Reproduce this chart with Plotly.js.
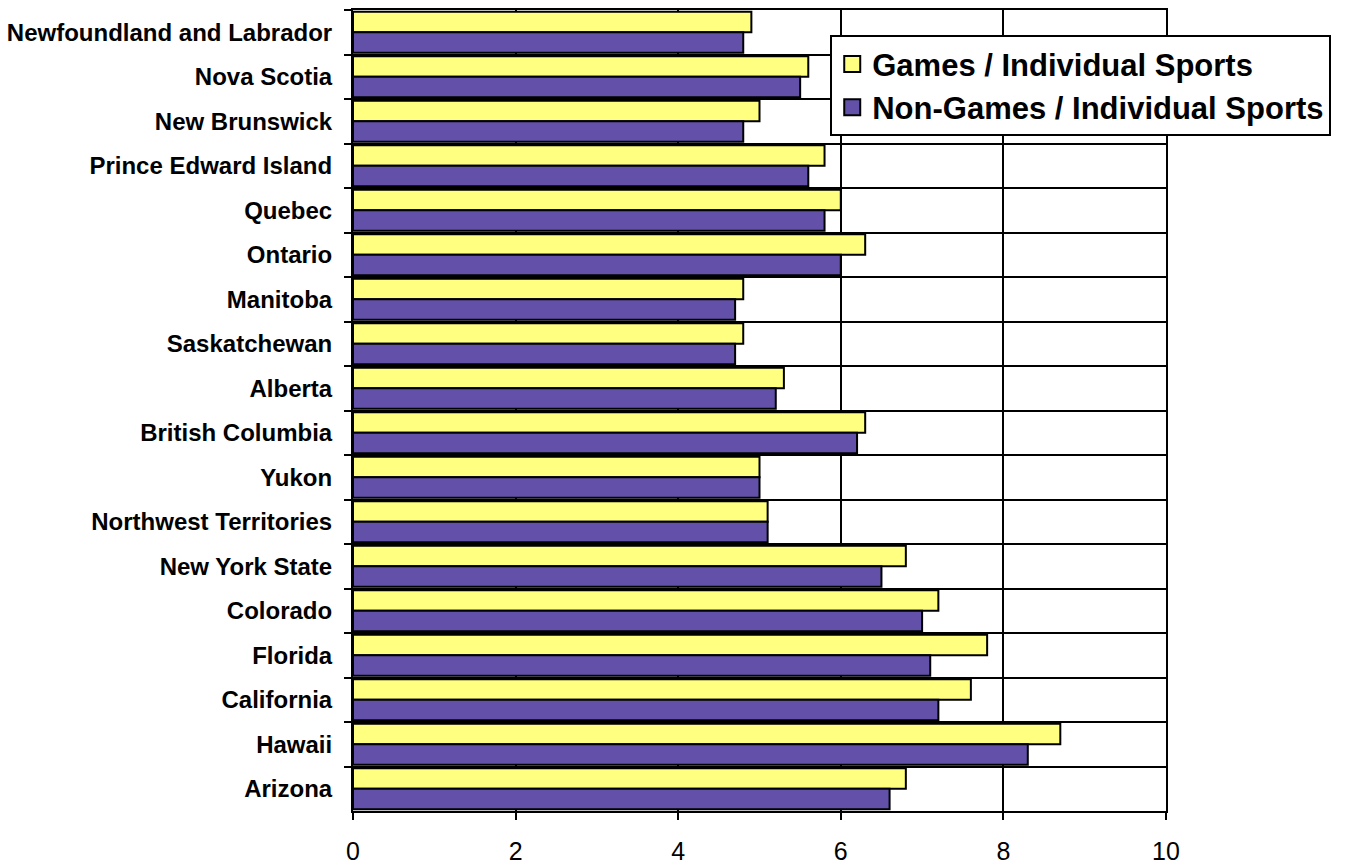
<!DOCTYPE html>
<html>
<head>
<meta charset="utf-8">
<script src="https://cdn.plot.ly/plotly-3.0.1.min.js"></script>
<style>
  html, body { margin: 0; padding: 0; background: #ffffff; }
  #chart { width: 1345px; height: 864px; }
</style>
</head>
<body>
<div id="chart"></div>
<script>
// Regions, listed top to bottom
const regions = [
  "Newfoundland and Labrador", "Nova Scotia", "New Brunswick", "Prince Edward Island",
  "Quebec", "Ontario", "Manitoba", "Saskatchewan", "Alberta", "British Columbia",
  "Yukon", "Northwest Territories", "New York State", "Colorado", "Florida",
  "California", "Hawaii", "Arizona"
];

// Games / Individual Sports
const gamesValues = [4.9, 5.6, 5.0, 5.8, 6.0, 6.3, 4.8, 4.8, 5.3, 6.3, 5.0, 5.1, 6.8, 7.2, 7.8, 7.6, 8.7, 6.8];

// Non-Games / Individual Sports
const nonGamesValues = [4.8, 5.5, 4.8, 5.6, 5.8, 6.0, 4.7, 4.7, 5.2, 6.2, 5.0, 5.1, 6.5, 7.0, 7.1, 7.2, 8.3, 6.6];

const xTicks = [0, 2, 4, 6, 8, 10];

const seriesNames = ["Games / Individual Sports", "Non-Games / Individual Sports"];
const seriesColors = ["#FFFF80", "#6350A8"];
const seriesValues = [gamesValues, nonGamesValues];

const FONT = "Liberation Sans, Arial, sans-serif";

const traces = [];
// bars
seriesValues.forEach((vals, i) => {
  traces.push({
    type: "bar", orientation: "h", name: seriesNames[i],
    y: regions, x: vals, showlegend: false,
    marker: { color: seriesColors[i], line: { color: "#000000", width: 2 } },
    hoverinfo: "x+y"
  });
});
// legend entries with larger square swatches
seriesNames.forEach((name, i) => {
  traces.push({
    type: "scatter", mode: "markers", name: name,
    x: [null], y: [null], showlegend: true, hoverinfo: "skip",
    marker: { symbol: "square", size: 16, color: seriesColors[i], line: { color: "#000000", width: 2 } }
  });
});

const layout = {
  width: 1345, height: 864,
  margin: { l: 353, r: 179, t: 10, b: 53, pad: 0 },
  paper_bgcolor: "#ffffff", plot_bgcolor: "#ffffff",
  barmode: "group", bargap: 0.08, bargroupgap: 0,
  font: { family: FONT, color: "#000000" },
  xaxis: {
    range: [0, 10], tickvals: xTicks, ticktext: xTicks.map(String),
    showgrid: true, gridcolor: "#000000", gridwidth: 2,
    showline: true, linecolor: "#000000", linewidth: 2, mirror: true,
    ticks: "outside", ticklen: 7, tickwidth: 2, tickcolor: "#000000",
    ticklabelstandoff: 10,
    tickfont: { size: 25, family: FONT, color: "#000000" },
    zeroline: false, fixedrange: true
  },
  yaxis: {
    type: "category", autorange: "reversed", tickson: "boundaries",
    showgrid: true, gridcolor: "#000000", gridwidth: 2,
    showline: true, linecolor: "#000000", linewidth: 2, mirror: true,
    ticks: "outside", ticklen: 7, tickwidth: 2, tickcolor: "#000000",
    ticklabelstandoff: 14,
    tickfont: { size: 24, family: FONT, weight: "bold", color: "#000000" },
    fixedrange: true
  },
  legend: {
    x: 0.587, y: 0.9685, xanchor: "left", yanchor: "top",
    bgcolor: "#ffffff", bordercolor: "#000000", borderwidth: 2,
    font: { size: 31, family: FONT, weight: "bold", color: "#000000" },
    traceorder: "normal", itemwidth: 30, itemsizing: "trace", tracegroupgap: 0
  },
  showlegend: true
};

Plotly.newPlot("chart", traces, layout, { displayModeBar: false, staticPlot: true });
</script>
</body>
</html>
